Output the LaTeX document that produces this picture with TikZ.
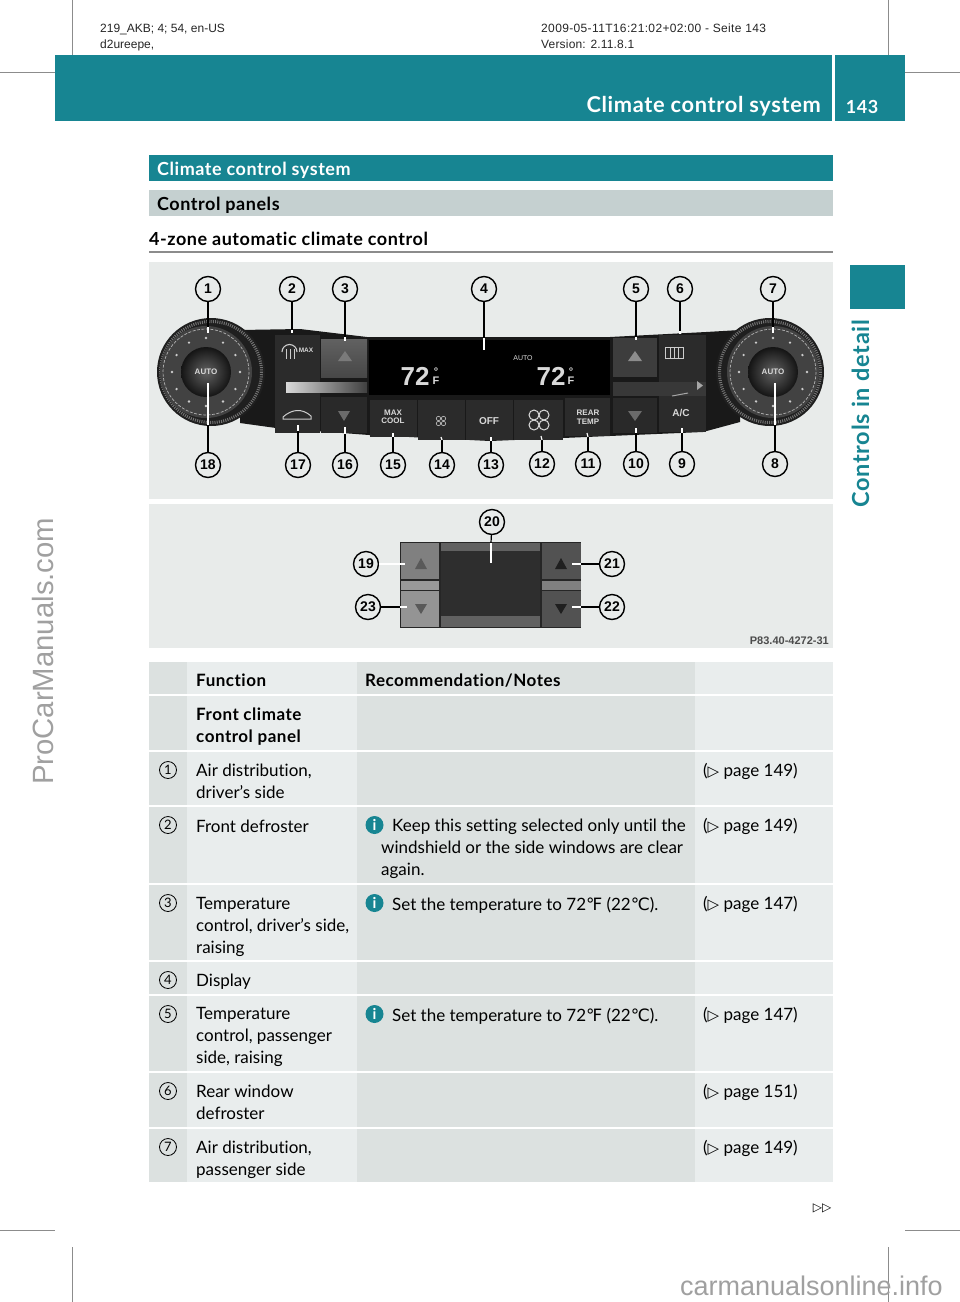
\documentclass[tikz,border=0pt]{standalone}
\usepackage{fontspec}
\setmainfont{Lato}[Ligatures=NoCommon,BoldFeatures={LetterSpace=3}]
\newfontfamily\symfont{DejaVu Sans}
\newfontfamily\markfont{Liberation Sans}
\definecolor{mbteal}{HTML}{178592}
\definecolor{mbband}{HTML}{C5D0D0}
\definecolor{celllight}{HTML}{E9EDED}
\definecolor{celldark}{HTML}{DCE1E0}
\definecolor{photobg}{HTML}{E8EBEA}
\definecolor{cropgray}{HTML}{8C8C8C}
\definecolor{wmgray}{HTML}{A0A0A0}
\newcommand{\tri}{{\symfont\fontsize{15}{15}\selectfont ▷}}
\newcommand{\degF}{{\symfont\fontsize{17}{17}\selectfont ℉}}
\newcommand{\degC}{{\symfont\fontsize{17}{17}\selectfont ℃}}
\tikzset{
 x=1pt,y=-1pt,
 bodytext/.style={anchor=north west,inner sep=0pt,align=left,font=\fontsize{17}{22}\selectfont,execute at begin node=\strut},
 boldtext/.style={bodytext,font=\fontsize{17}{22}\selectfont\bfseries},
 headtext/.style={anchor=base west,inner sep=0pt,font=\fontsize{18}{22}\selectfont\bfseries},
 smalltext/.style={anchor=base west,inner sep=0pt,text=black!85,font=\markfont\fontsize{12}{15}\selectfont},
 rownum/.style={circle,draw=black,line width=0.8pt,minimum size=17pt,inner sep=0pt,font=\fontsize{13}{13}\selectfont},
 infoicon/.style={circle,fill=mbteal,text=white,minimum size=18pt,inner sep=0pt,font=\fontsize{15}{15}\selectfont\bfseries},
 callout/.style={circle,draw=black,fill=photobg,line width=1.4pt,minimum size=25pt,inner sep=0pt,font=\markfont\fontsize{14}{14}\selectfont\bfseries},
 callline/.style={draw=black,line width=1.2pt},
 calltip/.style={draw=white,line width=1.2pt},
 paneltext/.style={inner sep=0pt,text=white!85!black,align=center,font=\markfont\fontsize{8}{8.5}\selectfont\bfseries},
 panelbtn/.style={fill=black!83},
 cropmark/.style={cropgray,line width=1pt},
}
% dial of the front panel, #3 is the centre of the outer bezel
\newcommand{\drawknob}[4]{
 \fill[black!88] (#3,#2) circle (54);
 \draw[black!55,line width=3pt,dash pattern=on 1pt off 1.2pt] (#3,#2) circle (50.5);
 \fill[black!74] (#1,#2) circle (46);
 \draw[white!70!black,line width=0.7pt,dash pattern=on 3pt off 1.5pt] (#1,#2) circle (43);
 \foreach\ang in {30,60,...,360}{
  \fill[white!80!black] (#1,#2) ++(\ang:34) circle (1.3);
 }
 \shade[inner color=black!62,outer color=black!92] (#1,#2) circle (25);
 \node[paneltext] (#4auto) at (#1,#2) {AUTO};
}
\begin{document}
\begin{tikzpicture}
\useasboundingbox (0,0) rectangle (960,1302);
\fill[white] (0,0) rectangle (960,1302);
% crop marks
\foreach\xp in {72,888}{
 \draw[cropmark] (\xp,0) -- (\xp,55);
 \draw[cropmark] (\xp,1247) -- (\xp,1302);
}
\foreach\xp/\xq in {0/55,905/960}{
 \draw[cropmark] (\xp,72) -- (\xq,72);
 \draw[cropmark] (\xp,1230) -- (\xq,1230);
}
\node[smalltext] (jobline) at (100,32) {219\_AKB; 4; 54, en-US};
\node[smalltext] (userline) at (100,48) {d2ureepe,};
\node[smalltext] (dateline) at (541,32) {\addfontfeature{LetterSpace=3}2009-05-11T16:21:02+02:00 - Seite 143};
\node[smalltext] (versionline) at (541,48) {\addfontfeature{LetterSpace=1.5}Version: 2.11.8.1};
% running head and side tab
\fill[mbteal] (55,55) rectangle (832,121);
\fill[mbteal] (835,55) rectangle (905,121);
\node[anchor=base east,inner sep=0pt,text=white,font=\fontsize{21.8}{24}\selectfont\bfseries] (runhead) at (821,112) {Climate control system};
\node[anchor=base,inner sep=0pt,text=white,font=\fontsize{18}{20}\selectfont\bfseries] (pagenum) at (862,113) {143};
\fill[mbteal] (850,265) rectangle (905,309);
\node[rotate=90,anchor=base west,inner sep=0pt,text=mbteal,font=\fontsize{23.5}{26}\selectfont\bfseries] (sidetab) at (869,508) {Controls in detail};
% headings
\fill[mbteal] (149,155) rectangle (833,181);
\node[headtext,text=white] (sectitle) at (157,175) {Climate control system};
\fill[mbband] (149,190) rectangle (833,216);
\node[headtext] (subtitle) at (157,210) {Control panels};
\node[headtext] (zonetitle) at (149,245) {4-zone automatic climate control};
\draw[black!45,line width=2pt] (149,252) -- (833,252);
% upper photo
\fill[photobg] (149,262) rectangle (833,499);
\fill[black!90] (240,330) -- (300,329) -- (367,337) -- (610,337) -- (706,332) -- (740,330) -- (740,422) -- (703,432) -- (563,438) -- (490,441) -- (369,435) -- (276,428) -- (240,423) -- cycle;
\drawknob{206}{372}{211}{left}
\drawknob{773}{372}{770}{right}
\fill[panelbtn] (275,335) rectangle (320,433);
\shade[top color=black!62,bottom color=black!72] (321,339) rectangle (367,377);
\fill[black!84] (321,397) rectangle (367,433);
\fill[panelbtn] (659,335) rectangle (706,432);
\fill[black!76] (613,338) rectangle (657,377);
\fill[black!84] (613,398) rectangle (657,433);
\shade[left color=white!85!black,right color=black!75] (286,382) rectangle (367,392);
\fill[black!78] (613,382) rectangle (706,396);
\fill[white!65!black] (697,381) -- (697,390) -- (703,385.5) -- cycle;
\draw[white!65!black,line width=1pt] (672,396) -- (688,393);
\fill[black] (369,340) rectangle (610,395);
\foreach\xa/\ya/\xb/\yb in {370/400/417/437,418/400/465/440,466/400/513/440,514/400/563/440,565/398/610/436}{
 \fill[panelbtn] (\xa,\ya) rectangle (\xb,\yb);
}
\fill[black!52] (338,361) -- (345,351) -- (352,361) -- cycle;
\fill[black!58] (338,411) -- (350,411) -- (344,421) -- cycle;
\fill[black!45] (628,361) -- (635,351) -- (642,361) -- cycle;
\fill[black!58] (628,411) -- (642,411) -- (635,421) -- cycle;
% small panel icons
\draw[white!80!black,line width=1.1pt] (282,352) arc (180:360:7.5);
\foreach\xp in {286,290,294}{
 \draw[white!80!black,line width=0.8pt] (\xp,349) -- (\xp,359);
}
\node[paneltext,font=\markfont\fontsize{6.5}{7}\selectfont\bfseries] (maxleft) at (306,350) {MAX};
\draw[white!80!black,line width=1pt] (665,347) rectangle (683,358);
\foreach\xp in {670,674,678}{
 \draw[white!80!black,line width=0.8pt] (\xp,347) -- (\xp,358);
}
\draw[white!80!black,line width=1pt] (283,417) .. controls (292,409) and (302,408) .. (311,416) -- (311,419) -- (283,419) -- cycle;
\node[paneltext,font=\markfont\fontsize{26}{26}\selectfont\bfseries] (templeft) at (415,376) {72};
\node[paneltext,font=\markfont\fontsize{11}{9}\selectfont\bfseries] (unitleft) at (436,376) {°\\F};
\node[paneltext,font=\markfont\fontsize{26}{26}\selectfont\bfseries] (tempright) at (551,376) {72};
\node[paneltext,font=\markfont\fontsize{11}{9}\selectfont\bfseries] (unitright) at (571,376) {°\\F};
\node[paneltext,font=\markfont\fontsize{7}{7}\selectfont] (autodisp) at (523,358) {AUTO};
\node[paneltext] (maxcool) at (393,417) {MAX\\COOL};
\node[paneltext,font=\markfont\fontsize{10}{10}\selectfont\bfseries] (offbtn) at (489,421) {OFF};
\node[paneltext] (reartemp) at (588,417) {REAR\\TEMP};
\node[paneltext,font=\markfont\fontsize{10}{10}\selectfont\bfseries] (acbtn) at (681,413) {A/C};
\foreach\dx/\dy in {-5/-5,5/-5,-5/5,5/5}{
 \draw[white!85!black,line width=1pt] (539,420) ++(\dx,\dy) circle (5);
 \draw[white!70!black,line width=0.7pt] (441,421) ++(\dx*0.5,\dy*0.5) circle (2.2);
}
% lower photo
\fill[photobg] (149,504) rectangle (833,648);
\fill[black!85] (400,542) rectangle (581,628);
\fill[black!50] (401,543) rectangle (439,579);
\fill[black!40] (401,581) rectangle (439,590);
\fill[black!42] (401,591) rectangle (439,627);
\fill[black!62] (441,543) rectangle (540,551);
\fill[black!62] (441,616) rectangle (540,627);
\fill[black!82] (441,551) rectangle (540,616);
\fill[black!68] (542,543) rectangle (581,579);
\fill[black!50] (542,581) rectangle (581,590);
\fill[black!68] (542,591) rectangle (581,627);
\fill[black!65] (415,569) -- (421,558) -- (427,569) -- cycle;
\fill[black!65] (415,604) -- (427,604) -- (421,614) -- cycle;
\fill[black!88] (555,569) -- (561,558) -- (567,569) -- cycle;
\fill[black!88] (555,604) -- (567,604) -- (561,614) -- cycle;
\node[anchor=base east,inner sep=0pt,text=black!70,font=\markfont\fontsize{11}{12}\selectfont\bfseries] (photocode) at (829,644) {P83.40-4272-31};
% callouts, black line from the circle and a short white end on the panel
\foreach\nr/\xp/\yp/\xe/\ye/\xt/\yt in {1/208/289/208/333/208/327,2/292/289/292/333/292/330,3/345/289/345/341/345/337,4/484/289/484/350/484/338,5/636/289/636/340/636/337,6/680/289/680/334/680/331,7/773/289/773/333/773/327,8/775/464/775/383/775/425,9/682/464/682/428/682/433,10/636/464/636/428/636/433,11/588/464/587/433/588/437,12/542/464/541/436/542/440,13/491/465/491/437/491/441,14/442/465/441/437/442/440,15/393/465/393/433/393/437,16/345/465/345/427/345/434,17/298/465/298/425/298/431,18/208/465/208/383/208/425,20/492/522/491/563/491/543,19/366/564/405/564/379/564,21/612/564/572/564/581/564,22/612/607/572/607/581/607,23/368/607/407/607/400/607}{
 \node[callout] (call\nr) at (\xp,\yp) {\nr};
 \coordinate (end\nr) at (\xe,\ye);
 \coordinate (tip\nr) at (\xt,\yt);
 \draw[callline] (call\nr) -- (tip\nr);
 \draw[calltip] (tip\nr) -- (end\nr);
}
% table
\foreach\ya/\yb in {662/694,696/750,752/805,807/883,885/960,962/994,996/1071,1073/1127,1129/1182}{
 \fill[celldark] (149,\ya) rectangle (187,\yb);
 \fill[celllight] (187,\ya) rectangle (357,\yb);
 \fill[celldark] (357,\ya) rectangle (695,\yb);
 \fill[celllight] (695,\ya) rectangle (833,\yb);
}
\node[boldtext] (funchead) at (196,670.5) {Function};
\node[boldtext] (notehead) at (365,670.5) {Recommendation/Notes};
\node[boldtext] (fronthead) at (196,707.5) {Front climate\\control panel};
\node[bodytext] (func1) at (196,763.5) {Air distribution,\\driver’s side};
\node[bodytext] (func2) at (196,816.5) {Front defroster};
\node[bodytext] (func3) at (196,897) {Temperature\\control, driver’s side,\\raising};
\node[bodytext] (func4) at (196,970.5) {Display};
\node[bodytext] (func5) at (196,1007.5) {Temperature\\control, passenger\\side, raising};
\node[bodytext] (func6) at (196,1084.5) {Rear window\\defroster};
\node[bodytext] (func7) at (196,1140.5) {Air distribution,\\passenger side};
\foreach\nr/\yp/\pg in {1/770/149,2/825/149,3/903/147,5/1014/147,6/1091/151,7/1147/149}{
 \node[bodytext] (page\nr) at (703,\yp-9.5) {(\tri{} page \pg)};
}
\foreach\nr/\yp in {1/770,2/825,3/903,4/980,5/1014,6/1091,7/1147}{
 \node[rownum] (num\nr) at (168,\yp) {\nr};
}
\foreach\nr/\yp in {2/825,3/903,5/1014}{
 \node[infoicon] (info\nr) at (374.5,\yp) {i};
}
\node[bodytext] (note2) at (381,819) {\hspace*{11pt}Keep this setting selected only until the\\windshield or the side windows are clear\\again.};
\node[bodytext] (note3) at (392,895) {Set the temperature to 72\degF{} (22\degC).};
\node[bodytext] (note5) at (392,1006) {Set the temperature to 72\degF{} (22\degC).};
\node[inner sep=0pt,font=\symfont\fontsize{12}{12}\selectfont] (nextmark) at (822,1208) {▷▷};
% watermarks
\node[rotate=90,anchor=base west,inner sep=0pt,text=wmgray,font=\markfont\fontsize{29.3}{32}\selectfont] (wmleft) at (53,785) {ProCarManuals.com};
\node[anchor=base east,inner sep=0pt,text=wmgray,font=\markfont\fontsize{27}{30}\selectfont] (wmright) at (943,1295) {carmanualsonline.info};
\end{tikzpicture}
\end{document}
